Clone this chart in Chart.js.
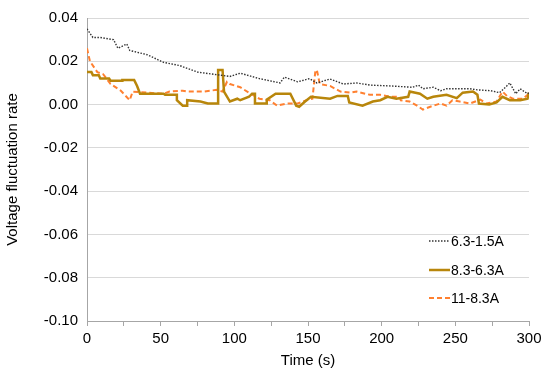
<!DOCTYPE HTML>
<html lang="en">
<head>
    <meta charset="utf-8" />
    <title>Voltage fluctuation rate</title>
    <script src="https://cdn.jsdelivr.net/npm/chart.js"></script>
    <style>
        html, body { margin: 0; padding: 0; background: #fff; }
        #wrap { width: 550px; height: 373px; }
    </style>
</head>
<body>
<div id="wrap"><canvas id="voltChart" width="550" height="373"></canvas></div>
<script>
    // series labels
    const seriesLabels = ['6.3-1.5A', '8.3-6.3A', '11-8.3A'];

    // 6.3-1.5A (time in s, rate)
    const timeA = [0, 4, 9, 18, 21, 27, 29, 41, 52, 63, 75, 86, 97, 104, 117, 131, 134, 143, 151, 156, 165, 174, 183, 192, 206, 221, 225, 228, 235, 240, 244, 260, 265, 274, 280, 284, 287, 291, 294, 299, 300];
    const rateA = [0.035, 0.031, 0.031, 0.030, 0.026, 0.028, 0.025, 0.023, 0.0195, 0.018, 0.015, 0.014, 0.013, 0.0145, 0.012, 0.010, 0.0127, 0.0105, 0.012, 0.010, 0.0118, 0.0095, 0.010, 0.009, 0.0086, 0.008, 0.009, 0.0073, 0.008, 0.0064, 0.0073, 0.0073, 0.0068, 0.0064, 0.0055, 0.008, 0.010, 0.005, 0.0073, 0.005, 0.0055];

    // 8.3-6.3A
    const timeB = [0, 3, 4, 8, 9, 15, 16, 24, 24, 32, 34, 36, 52, 53, 61, 61, 65, 68, 68, 77, 82, 89, 89, 92, 93, 97, 102, 104, 110, 112, 114, 114, 122, 122, 128, 138, 142, 144, 148, 152, 165, 170, 177, 178, 187, 194, 199, 204, 210, 218, 219, 226, 231, 235, 244, 251, 255, 262, 265, 266, 273, 278, 282, 287, 294, 299, 300];
    const rateB = [0.015, 0.015, 0.0136, 0.0136, 0.012, 0.012, 0.011, 0.011, 0.0114, 0.0114, 0.0086, 0.005, 0.005, 0.0045, 0.0045, 0.002, -0.0005, -0.0005, 0.002, 0.0014, 0.0005, 0.0005, 0.016, 0.016, 0.006, 0.0014, 0.0027, 0.002, 0.0036, 0.005, 0.005, 0.0005, 0.0005, 0.0023, 0.005, 0.005, -0.0005, -0.001, 0.0014, 0.0036, 0.0027, 0.004, 0.004, 0.001, -0.0005, 0.0014, 0.002, 0.0036, 0.0027, 0.0036, 0.006, 0.005, 0.0027, 0.0036, 0.0045, 0.003, 0.0055, 0.006, 0.0045, 0.0005, 0, 0.001, 0.0036, 0.002, 0.002, 0.0027, 0.0055];

    // 11-8.3A
    const timeC = [0, 2, 7, 11, 16, 23, 29, 31, 41, 52, 56, 65, 68, 79, 88, 92, 95, 97, 104, 111, 117, 124, 129, 136, 143, 149, 153, 155, 156, 158, 165, 172, 179, 183, 192, 199, 206, 212, 213, 219, 224, 228, 233, 240, 244, 248, 253, 260, 267, 271, 278, 282, 285, 289, 296, 300];
    const rateC = [0.026, 0.020, 0.015, 0.014, 0.0095, 0.0064, 0.002, 0.006, 0.0055, 0.005, 0.006, 0.0064, 0.006, 0.006, 0.0068, 0.006, 0.0105, 0.0095, 0.008, 0.005, 0.0027, 0.002, -0.0005, 0.0005, 0.0005, 0.002, 0.0027, 0.0155, 0.016, 0.0095, 0.0086, 0.006, 0.0055, 0.006, 0.0045, 0.0045, 0.0036, 0.0036, 0.002, 0.0014, -0.0005, -0.0023, -0.001, 0.0005, -0.0005, 0.002, 0.0014, 0.0005, 0.0023, 0.0005, 0.0014, 0.006, 0.004, 0.0027, 0.0027, 0.005];

    // axis ticks
    const xTickLabels = [0, 50, 100, 150, 200, 250, 300];
    const yTickLabels = [0.04, 0.02, 0.00, -0.02, -0.04, -0.06, -0.08, -0.10];

    const fontFamily = '"Liberation Sans", Arial, sans-serif';

    function toPoints(xs, ys) {
        return xs.map((x, i) => ({ x: x, y: ys[i] }));
    }

    // legend drawn inside the plot area, lower right
    const insideLegend = {
        id: 'insideLegend',
        afterDraw(chart) {
            const ctx = chart.ctx;
            const rows = [241, 270, 298];
            ctx.save();
            ctx.font = '14px ' + fontFamily;
            ctx.textBaseline = 'middle';
            ctx.fillStyle = '#000';
            chart.data.datasets.forEach((ds, i) => {
                const y = rows[i];
                ctx.beginPath();
                ctx.strokeStyle = ds.borderColor;
                ctx.lineWidth = ds.borderWidth;
                ctx.setLineDash(ds.borderDash || []);
                ctx.moveTo(429, y);
                ctx.lineTo(450, y);
                ctx.stroke();
                ctx.setLineDash([]);
                ctx.fillText(ds.label, 451, y + 1);
            });
            ctx.restore();
        }
    };

    window.onload = function () {
        const ctx = document.getElementById('voltChart').getContext('2d');
        new Chart(ctx, {
            type: 'line',
            data: {
                datasets: [{
                    label: seriesLabels[0],
                    data: toPoints(timeA, rateA),
                    borderColor: '#333333',
                    borderWidth: 1.4,
                    borderDash: [1.5, 1.5],
                    pointRadius: 0,
                    tension: 0
                }, {
                    label: seriesLabels[1],
                    data: toPoints(timeB, rateB),
                    borderColor: '#b8860b',
                    borderWidth: 2.5,
                    pointRadius: 0,
                    tension: 0
                }, {
                    label: seriesLabels[2],
                    data: toPoints(timeC, rateC),
                    borderColor: '#ff8030',
                    borderWidth: 2,
                    borderDash: [5, 3],
                    pointRadius: 0,
                    tension: 0
                }]
            },
            options: {
                responsive: false,
                animation: false,
                layout: { padding: { top: 13, right: 21, left: 4, bottom: 0 } },
                plugins: {
                    legend: { display: false },
                    tooltip: { enabled: false }
                },
                scales: {
                    x: {
                        type: 'linear',
                        min: 0,
                        max: 300,
                        afterBuildTicks: (scale) => {
                            scale.ticks = [];
                            for (let v = 0; v <= 300; v += 25) scale.ticks.push({ value: v });
                        },
                        afterFit: (scale) => { scale.height = 52; },
                        ticks: {
                            color: '#000',
                            font: { family: fontFamily, size: 15 },
                            padding: 4,
                            maxRotation: 0,
                            autoSkip: false,
                            callback: (v) => xTickLabels.includes(v) ? String(v) : ''
                        },
                        grid: {
                            display: true,
                            drawOnChartArea: false,
                            drawTicks: true,
                            tickLength: 5,
                            color: '#a6a6a6'
                        },
                        border: { color: '#a6a6a6', width: 1 },
                        title: {
                            display: true,
                            text: 'Time (s)',
                            color: '#000',
                            font: { family: fontFamily, size: 15 },
                            padding: { top: 0, bottom: 3 }
                        }
                    },
                    y: {
                        min: -0.10,
                        max: 0.04,
                        afterBuildTicks: (scale) => {
                            scale.ticks = yTickLabels.map(v => ({ value: v }));
                        },
                        afterFit: (scale) => { scale.width = 83; },
                        ticks: {
                            color: '#000',
                            font: { family: fontFamily, size: 15 },
                            padding: 9,
                            callback: (v) => v.toFixed(2)
                        },
                        grid: {
                            color: (c) => c.tick && Math.abs(c.tick.value + 0.10) < 1e-9 ? 'rgba(0,0,0,0)' : '#d9d9d9',
                            drawTicks: false,
                            lineWidth: 1
                        },
                        border: { color: '#a6a6a6', width: 1 },
                        title: {
                            display: true,
                            text: 'Voltage fluctuation rate',
                            color: '#000',
                            font: { family: fontFamily, size: 15 },
                            padding: { top: 0, bottom: 0 }
                        }
                    }
                }
            },
            plugins: [insideLegend]
        });
    };
</script>
</body>
</html>
